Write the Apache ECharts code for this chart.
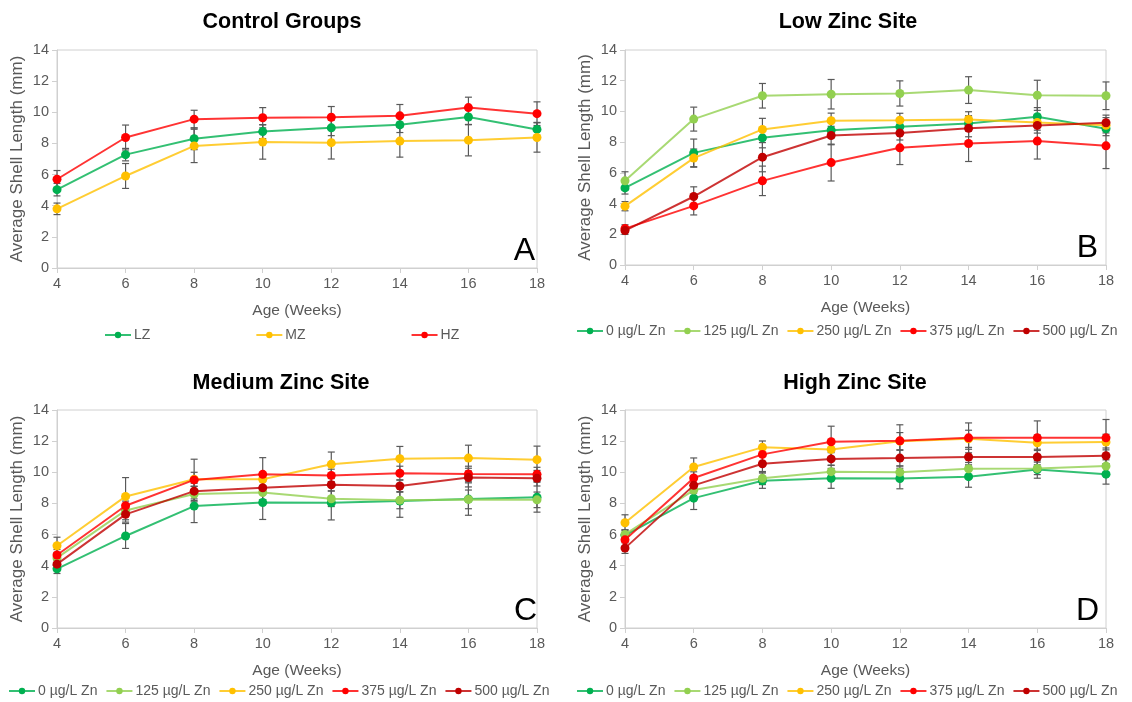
<!DOCTYPE html>
<html>
<head>
<meta charset="utf-8">
<title>Average Shell Length by Age</title>
<script src="https://cdn.jsdelivr.net/npm/echarts@6/dist/echarts.min.js"></script>
<style>
  html, body { margin: 0; padding: 0; background: #ffffff; }
  #chart { width: 1132px; height: 702px; }
</style>
</head>
<body>
<div id="chart"></div>
<script>
// Sampling ages (weeks)
const weeks = [4, 6, 8, 10, 12, 14, 16, 18];

// Panel titles and corner letters
const panelTitles = ['Control Groups', 'Low Zinc Site', 'Medium Zinc Site', 'High Zinc Site'];
const panelLetters = ['A', 'B', 'C', 'D'];

// Series names
const controlNames = ['LZ', 'MZ', 'HZ'];
const doseNames = ['0 µg/L Zn', '125 µg/L Zn', '250 µg/L Zn', '375 µg/L Zn', '500 µg/L Zn'];

// A: control groups (mean and error, mm)
const ctrlLZ = [5.03, 7.28, 8.30, 8.76, 9.00, 9.20, 9.70, 8.90];
const ctrlMZ = [3.80, 5.91, 7.84, 8.09, 8.05, 8.15, 8.21, 8.38];
const ctrlHZ = [5.70, 8.38, 9.56, 9.65, 9.68, 9.77, 10.30, 9.91];
const ctrlLZErr = [0.40, 0.40, 0.70, 0.45, 0.50, 0.50, 0.50, 0.45];
const ctrlMZErr = [0.37, 0.80, 1.07, 1.10, 1.05, 1.03, 1.01, 0.94];
const ctrlHZErr = [0.56, 0.80, 0.57, 0.65, 0.69, 0.73, 0.67, 0.76];

// B: low zinc site
const low0 = [5.02, 7.30, 8.28, 8.78, 9.00, 9.22, 9.65, 8.87];
const low125 = [5.48, 9.50, 11.02, 11.12, 11.17, 11.39, 11.05, 11.02];
const low250 = [3.83, 6.96, 8.83, 9.39, 9.43, 9.48, 9.28, 9.10];
const low375 = [2.37, 3.85, 5.48, 6.67, 7.63, 7.91, 8.07, 7.76];
const low500 = [2.24, 4.46, 7.02, 8.43, 8.59, 8.90, 9.09, 9.26];
const low0Err = [0.40, 0.90, 0.65, 0.50, 0.45, 0.50, 0.60, 0.45];
const low125Err = [0.59, 0.78, 0.80, 0.96, 0.82, 0.87, 0.98, 0.90];
const low250Err = [0.30, 0.59, 0.72, 0.50, 0.45, 0.50, 0.50, 0.50];
const low375Err = [0.25, 0.59, 0.96, 1.20, 1.09, 1.17, 1.17, 1.48];
const low500Err = [0.25, 0.63, 0.95, 0.60, 0.45, 0.55, 0.50, 0.50];

// C: medium zinc site
const med0 = [3.80, 5.91, 7.83, 8.06, 8.04, 8.15, 8.28, 8.40];
const med125 = [4.50, 7.55, 8.60, 8.70, 8.30, 8.21, 8.26, 8.23];
const med250 = [5.28, 8.45, 9.55, 9.55, 10.51, 10.87, 10.91, 10.81];
const med375 = [4.69, 7.85, 9.51, 9.87, 9.80, 9.94, 9.89, 9.87];
const med500 = [4.10, 7.30, 8.79, 9.00, 9.20, 9.12, 9.66, 9.62];
const med0Err = [0.30, 0.80, 1.06, 1.09, 1.10, 1.04, 1.04, 0.96];
const med125Err = [0.35, 0.60, 0.50, 0.45, 0.50, 0.55, 0.60, 0.50];
const med250Err = [0.55, 1.21, 0.45, 0.40, 0.79, 0.79, 0.83, 0.87];
const med375Err = [0.35, 0.50, 1.33, 1.07, 0.40, 0.45, 0.50, 0.45];
const med500Err = [0.30, 0.50, 0.50, 0.40, 0.40, 0.40, 0.60, 0.50];

// D: high zinc site
const high0 = [5.95, 8.34, 9.46, 9.61, 9.60, 9.72, 10.18, 9.88];
const high125 = [6.01, 8.86, 9.61, 10.04, 10.00, 10.23, 10.25, 10.40];
const high250 = [6.76, 10.34, 11.60, 11.47, 12.00, 12.15, 11.90, 11.94];
const high375 = [5.66, 9.63, 11.15, 11.96, 12.02, 12.21, 12.21, 12.21];
const high500 = [5.13, 9.16, 10.55, 10.86, 10.91, 10.98, 10.98, 11.06];
const high0Err = [0.35, 0.73, 0.49, 0.64, 0.66, 0.68, 0.56, 0.64];
const high125Err = [0.30, 0.40, 0.40, 0.40, 0.40, 0.40, 0.40, 0.40];
const high250Err = [0.51, 0.58, 0.41, 0.50, 0.55, 0.55, 0.50, 0.50];
const high375Err = [0.40, 0.40, 0.50, 1.00, 1.03, 0.96, 1.09, 1.18];
const high500Err = [0.34, 0.50, 0.50, 0.40, 0.50, 0.50, 0.50, 0.50];

const controlColors = ['#00b050', '#ffc000', '#ff0000'];
const doseColors = ['#00b050', '#92d050', '#ffc000', '#ff0000', '#c00000'];

const panels = [
  { names: controlNames, colors: controlColors, values: [ctrlLZ, ctrlMZ, ctrlHZ], errors: [ctrlLZErr, ctrlMZErr, ctrlHZErr] },
  { names: doseNames, colors: doseColors, values: [low0, low125, low250, low375, low500], errors: [low0Err, low125Err, low250Err, low375Err, low500Err] },
  { names: doseNames, colors: doseColors, values: [med0, med125, med250, med375, med500], errors: [med0Err, med125Err, med250Err, med375Err, med500Err] },
  { names: doseNames, colors: doseColors, values: [high0, high125, high250, high375, high500], errors: [high0Err, high125Err, high250Err, high375Err, high500Err] }
];

// Layout of the four plot areas
const grids = [
  { left: 57, top: 50, width: 480, height: 218 },
  { left: 625, top: 50, width: 481, height: 215 },
  { left: 57, top: 410, width: 480, height: 218 },
  { left: 625, top: 410, width: 481, height: 218 }
];
const titleCenters = [[277, 6], [843, 6], [276, 367], [850, 367]];
const legendBoxes = [
  { left: 99, top: 323, itemGap: 105 },
  { left: 571, top: 319, itemGap: 8 },
  { left: 3, top: 679, itemGap: 8 },
  { left: 571, top: 679, itemGap: 8 }
];
const letterAnchors = [[535, 267], [1098, 264], [537, 627], [1099, 627]];

const FONT = 'Liberation Sans, Arial, sans-serif';
const axisGray = '#d0d0d0';
const textGray = '#595959';

function errorBarRenderer(params, api) {
  const x = api.value(0);
  const lo = api.coord([x, api.value(1)]);
  const hi = api.coord([x, api.value(2)]);
  const cap = 3.5;
  const style = { stroke: '#595959', lineWidth: 1.2 };
  return {
    type: 'group',
    children: [
      { type: 'line', shape: { x1: lo[0], y1: lo[1], x2: hi[0], y2: hi[1] }, style },
      { type: 'line', shape: { x1: lo[0] - cap, y1: lo[1], x2: lo[0] + cap, y2: lo[1] }, style },
      { type: 'line', shape: { x1: hi[0] - cap, y1: hi[1], x2: hi[0] + cap, y2: hi[1] }, style }
    ]
  };
}

const option = {
  animation: false,
  backgroundColor: '#ffffff',
  title: panelTitles.map((t, i) => ({
    text: t,
    left: titleCenters[i][0],
    top: titleCenters[i][1],
    textAlign: 'center',
    textStyle: { fontFamily: FONT, fontSize: 21.5, fontWeight: 'bold', color: '#000000' }
  })),
  grid: grids.map(g => Object.assign({ show: true, borderColor: axisGray, borderWidth: 1, backgroundColor: 'transparent' }, g)),
  xAxis: grids.map((g, i) => ({
    type: 'value',
    gridIndex: i,
    min: 4, max: 18, interval: 2,
    name: 'Age (Weeks)',
    nameLocation: 'middle',
    nameGap: 35,
    nameTextStyle: { fontFamily: FONT, fontSize: 15.5, color: textGray },
    axisLine: { show: true, lineStyle: { color: axisGray, width: 1 } },
    axisTick: { show: true, length: 5, lineStyle: { color: axisGray } },
    axisLabel: { fontFamily: FONT, fontSize: 14.5, color: textGray, margin: 8 },
    splitLine: { show: false }
  })),
  yAxis: grids.map((g, i) => ({
    type: 'value',
    gridIndex: i,
    min: 0, max: 14, interval: 2,
    name: 'Average Shell Length (mm)',
    nameLocation: 'middle',
    nameGap: 31,
    nameTextStyle: { fontFamily: FONT, fontSize: 17, color: textGray },
    axisLine: { show: true, lineStyle: { color: axisGray, width: 1 } },
    axisTick: { show: true, length: 5, lineStyle: { color: axisGray } },
    axisLabel: { fontFamily: FONT, fontSize: 14.5, color: textGray, margin: 8 },
    splitLine: { show: false }
  })),
  legend: panels.map((p, i) => ({
    data: p.names,
    left: legendBoxes[i].left,
    top: legendBoxes[i].top,
    itemGap: legendBoxes[i].itemGap,
    itemWidth: 26,
    itemHeight: 8,
    textStyle: { fontFamily: FONT, fontSize: 14, color: textGray, padding: [0, 0, 0, -2] },
    selectedMode: false
  })),
  graphic: panelLetters.map((l, i) => ({
    type: 'text',
    x: letterAnchors[i][0],
    y: letterAnchors[i][1],
    z: 100,
    style: {
      text: l,
      fontFamily: FONT,
      fontSize: 32,
      fill: '#000000',
      align: 'right',
      verticalAlign: 'bottom',
      shadowColor: 'rgba(0,0,0,0.45)',
      shadowBlur: 2,
      shadowOffsetX: 1,
      shadowOffsetY: 1
    }
  })),
  series: []
};

panels.forEach((p, pi) => {
  p.values.forEach((vals, si) => {
    option.series.push({
      type: 'custom',
      xAxisIndex: pi,
      yAxisIndex: pi,
      renderItem: errorBarRenderer,
      data: weeks.map((w, k) => [w, vals[k] - p.errors[si][k], vals[k] + p.errors[si][k]]),
      z: 1,
      silent: true
    });
  });
  p.values.forEach((vals, si) => {
    option.series.push({
      name: p.names[si],
      type: 'line',
      xAxisIndex: pi,
      yAxisIndex: pi,
      data: weeks.map((w, k) => [w, vals[k]]),
      symbol: 'circle',
      symbolSize: 9,
      color: p.colors[si],
      lineStyle: { width: 2, opacity: 0.8 },
      itemStyle: { color: p.colors[si] },
      z: 2 + si
    });
  });
});

const chart = echarts.init(document.getElementById('chart'), null, { renderer: 'canvas' });
chart.setOption(option);
</script>
</body>
</html>
